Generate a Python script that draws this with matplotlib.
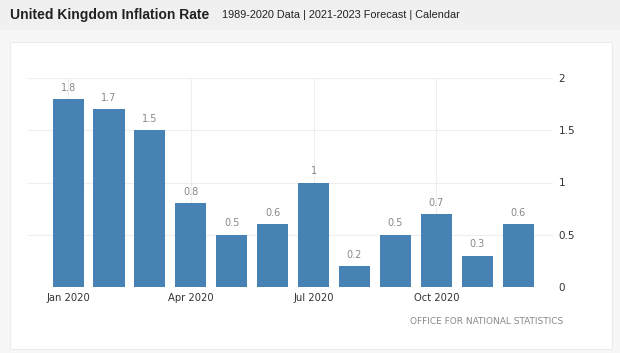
import matplotlib
matplotlib.use("Agg")
import matplotlib.pyplot as plt
from matplotlib.patches import Rectangle

months = ["Jan", "Feb", "Mar", "Apr", "May", "Jun", "Jul", "Aug", "Sep", "Oct", "Nov", "Dec"]
values = [1.8, 1.7, 1.5, 0.8, 0.5, 0.6, 1.0, 0.2, 0.5, 0.7, 0.3, 0.6]
value_labels = ["1.8", "1.7", "1.5", "0.8", "0.5", "0.6", "1", "0.2", "0.5", "0.7", "0.3", "0.6"]
xtick_pos = [0, 3, 6, 9]
xtick_labels = ["Jan 2020", "Apr 2020", "Jul 2020", "Oct 2020"]
yticks = [0, 0.5, 1, 1.5, 2]
ytick_labels = ["0", "0.5", "1", "1.5", "2"]

W, H = 620, 353
fig = plt.figure(figsize=(W / 100, H / 100), dpi=100, facecolor="#f7f7f7")

# header strip
fig.patches.append(Rectangle((0, 1 - 30 / H), 1, 30 / H, transform=fig.transFigure,
                             facecolor="#f0f0f0", edgecolor="none", zorder=-2))
# white panel
fig.patches.append(Rectangle((10 / W, 1 - 349 / H), 602 / W, (349 - 42) / H,
                             transform=fig.transFigure, facecolor="white",
                             edgecolor="#ececec", linewidth=0.8, zorder=-2))

fig.text(10 / W, 1 - 15 / H, "United Kingdom Inflation Rate", fontsize=10,
         fontweight="bold", color="#222222", va="center", ha="left",
         family="Liberation Sans")
fig.text(222 / W, 1 - 15 / H, "1989-2020 Data | 2021-2023 Forecast | Calendar",
         fontsize=7.8, color="#222222", va="center", ha="left", family="Liberation Sans")

ax = fig.add_axes([28 / W, 1 - 287 / H, (553 - 28) / W, (287 - 78) / H])
ax.set_zorder(2)
ax.set_facecolor("none")
x = list(range(len(months)))
ax.bar(x, values, width=0.76, color="#4682b4", zorder=3)
for xi, v, lab in zip(x, values, value_labels):
    ax.text(xi, v + 0.06, lab, ha="center", va="bottom", fontsize=7,
            color="#888888", zorder=4)

ax.set_xlim(-0.98, 11.85)
ax.set_ylim(0, 2)
ax.set_yticks(yticks)
ax.set_yticklabels(ytick_labels)
ax.set_xticks(xtick_pos)
ax.set_xticklabels(xtick_labels)
ax.yaxis.tick_right()
ax.tick_params(axis="y", length=0, pad=4, labelsize=7.5, labelcolor="#333333")
ax.tick_params(axis="x", length=0, pad=4, labelsize=7.2, labelcolor="#333333")
for lab in ax.get_yticklabels() + ax.get_xticklabels():
    lab.set_fontweight("medium")
ax.grid(True, color="#eeeeee", linewidth=0.8, zorder=0)
for s in ax.spines.values():
    s.set_visible(False)

fig.text(563 / W, 1 - 321 / H, "OFFICE FOR NATIONAL STATISTICS", fontsize=6.5,
         color="#888888", ha="right", va="center", zorder=3)

fig.savefig("out.png", dpi=100, facecolor=fig.get_facecolor())
